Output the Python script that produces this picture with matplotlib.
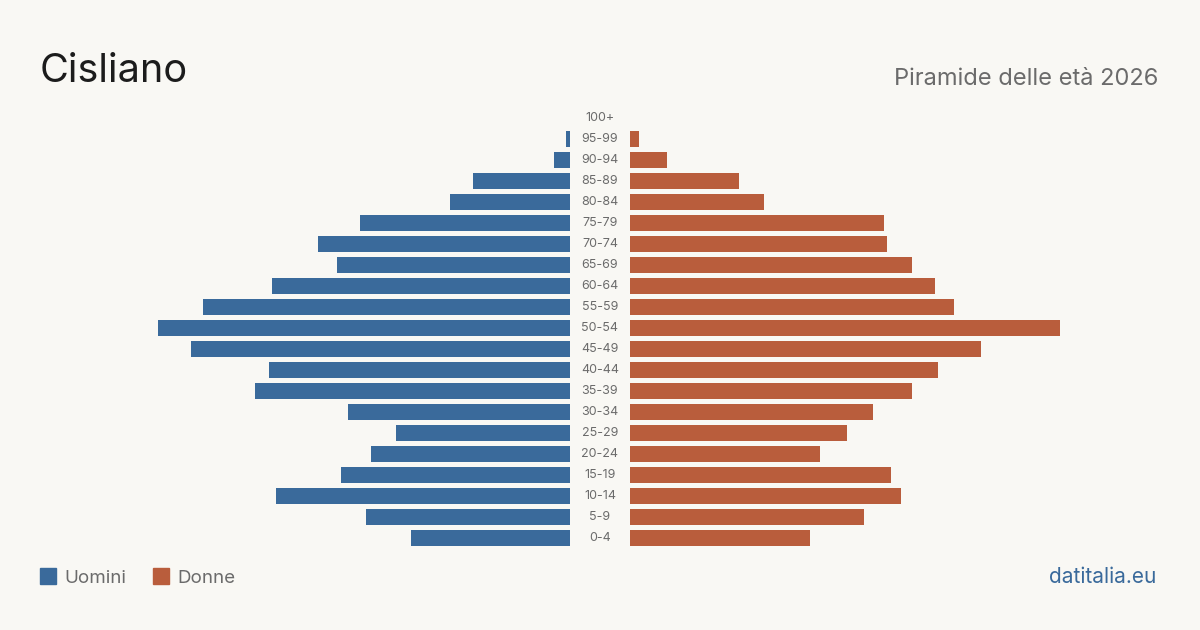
import matplotlib.pyplot as plt
from matplotlib.patches import Rectangle
from matplotlib.transforms import blended_transform_factory

plt.rcParams['font.family'] = ['Inter', 'DejaVu Sans']

# classi di età (dal basso verso l'alto)
eta = ['0-4', '5-9', '10-14', '15-19', '20-24', '25-29', '30-34', '35-39',
       '40-44', '45-49', '50-54', '55-59', '60-64', '65-69', '70-74', '75-79',
       '80-84', '85-89', '90-94', '95-99', '100+']
uomini = [159, 204, 294, 229, 199, 174, 222, 315, 301, 379, 412, 367, 298,
          233, 252, 210, 120, 97, 16, 4, 0]
donne = [180, 234, 271, 261, 190, 217, 243, 282, 308, 351, 430, 324, 305,
         282, 257, 254, 134, 109, 37, 9, 0]

blu = '#3a6a9b'
rosso = '#b95d3c'
sfondo = '#f9f8f4'
grigio = '#6b6b6b'

fig = plt.figure(figsize=(12, 6.3), dpi=100, facecolor=sfondo)
vmax = 430
W, H = 1200, 630

ax_u = fig.add_axes([140 / W, 1 - 548.5 / H, 430 / W, 441 / H])
ax_d = fig.add_axes([630 / W, 1 - 548.5 / H, 430 / W, 441 / H])

y = range(len(eta))
ax_u.barh(y, uomini, height=0.8, color=blu)
ax_d.barh(y, donne, height=0.8, color=rosso)
ax_u.set_xlim(vmax, 0)
ax_d.set_xlim(0, vmax)
for ax in (ax_u, ax_d):
    ax.set_ylim(-0.5, len(eta) - 0.5)
    ax.axis('off')
    ax.set_facecolor('none')

# etichette delle età al centro
tr = blended_transform_factory(fig.transFigure, ax_d.transData)
for i, e in enumerate(eta):
    fig.text(600 / W, i, e, transform=tr, ha='center', va='center',
             fontsize=9, color=grigio)

fig.text(40 / W, 1 - 82 / H, 'Cisliano', fontsize=28.5, color='#1c1c1c',
         ha='left', va='baseline')
fig.text(1158 / W, 1 - 85 / H, 'Piramide delle età 2026', fontsize=17,
         color=grigio, ha='right', va='baseline')

# legenda
fig.patches.append(Rectangle((40 / W, 1 - 584 / H), 16 / W, 16 / H,
                             transform=fig.transFigure, color=blu))
fig.text(64 / W, 1 - 583 / H, 'Uomini', fontsize=13.5, color=grigio,
         ha='left', va='baseline')
fig.patches.append(Rectangle((153 / W, 1 - 584 / H), 16 / W, 16 / H,
                             transform=fig.transFigure, color=rosso))
fig.text(177 / W, 1 - 583 / H, 'Donne', fontsize=13.5, color=grigio,
         ha='left', va='baseline')

fig.text(1156 / W, 1 - 583 / H, 'datitalia.eu', fontsize=15, color=blu,
         ha='right', va='baseline')

fig.savefig('out.png', dpi=100, facecolor=sfondo)
